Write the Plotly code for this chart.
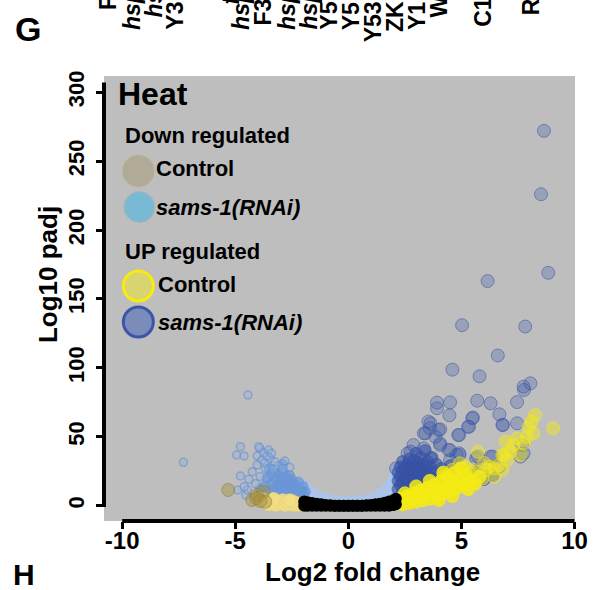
import plotly.graph_objects as go

# ---------------- data ----------------
# non-significant, sams-1(RNAi) (pale blue halo)
halo_x = [-3.4, -3.2, -3.0, -2.8, -2.6, -2.4, -2.2, -2.0, -1.85, -1.7, -1.55, -1.4, -1.25, -1.1, -0.9, -0.7, -0.5,
          -2.2, -1.9, -1.6, -2.6, -2.9,
          -0.3, -0.1, 0.1, 0.3, 0.5, 0.7,
          0.9, 1.1, 1.25, 1.4, 1.55, 1.7, 1.85, 2.0, 2.1, 2.2, 2.0, 1.8, 2.15]
halo_y = [4, 7, 9, 11, 13, 15, 16, 15, 13, 11, 9, 7.5, 6.5, 5.5, 4.5, 4, 3.5,
          10, 8, 6, 7, 5,
          3.2, 3, 3, 3.2, 3.5, 4,
          4.5, 5.5, 6.5, 8, 10, 13, 16, 20, 24, 27, 11, 8, 16]

# Down regulated, sams-1(RNAi)
down_rnai_dense_x = [-3.8, -3.7, -3.6, -3.6, -3.5, -3.4, -3.4, -3.3, -3.3, -3.2, -3.1, -3.1, -3.1, -3.0, -3.0, -3.0,
                     -2.9, -2.9, -2.8, -2.8, -2.8, -2.7, -2.7, -2.6, -2.6, -2.6, -2.5, -2.5, -2.5, -2.4, -2.4,
                     -2.3, -2.3, -2.2, -2.2, -2.1, -2.1, -2.0, -2.0, -1.9, -3.9, -3.5, -2.9]
down_rnai_dense_y = [8, 14, 20, 5, 10, 16, 23, 7, 12, 19, 9, 15, 24, 6, 12, 20,
                     17, 25, 9, 14, 21, 7, 18, 11, 15, 22, 8, 13, 19, 10, 16,
                     7, 13, 10, 17, 8, 12, 9, 14, 10, 12, 27, 30]
down_rnai_x = [-4.44, -7.29, -4.77, -4.94, -4.61, -3.92, -3.75, -3.53, -4.03, -3.82, -3.46, -3.24, -2.81, -4.03,
               -3.67, -3.31, -2.59, -4.25, -4.77, -4.4, -3.9, -4.9, -4.54, -4.47, -3.96, -3.6, -3.1, -2.9, -4.1,
               -4.6, -3.7, -3.4]
down_rnai_y = [80.3, 31.5, 42.8, 36.8, 36.1, 41.6, 38.5, 40.4, 36.1, 33.2, 34.4, 31.9, 32.4, 29.5,
               27.1, 26.4, 27.9, 24.7, 21.6, 19.2, 21.1, 11.4, 7.8, 11.4, 42.8, 36, 29, 27, 16,
               14, 31, 38]

# Up regulated, sams-1(RNAi)
up_rnai_dense_x = [2.2, 2.2, 2.2, 2.3, 2.3, 2.3, 2.4, 2.4, 2.4, 2.4, 2.5, 2.5, 2.5, 2.6, 2.6, 2.6, 2.6, 2.7, 2.7, 2.7,
                   2.7, 2.8, 2.8, 2.8, 2.9, 2.9, 2.9, 2.9, 3.0, 3.0, 3.0, 3.0, 3.1, 3.1, 3.1, 3.2, 3.2, 3.2, 3.2,
                   3.3, 3.3, 3.3, 3.4, 3.4, 3.4, 3.5, 3.5, 3.5, 3.6, 3.6, 3.7, 3.7, 3.8, 3.9, 4.0, 4.1, 4.3, 4.5,
                   4.7, 5.0, 5.3, 5.6, 6.0, 6.4, 3.8, 4.2]
up_rnai_dense_y = [12, 18, 24, 15, 21, 28, 10, 17, 25, 32, 13, 20, 27, 9, 16, 23, 30, 12, 19, 26,
                   34, 15, 22, 29, 11, 18, 25, 33, 14, 21, 28, 38, 17, 24, 31, 13, 20, 27, 35,
                   16, 23, 30, 19, 26, 40, 15, 22, 32, 25, 29, 20, 35, 24, 30, 21, 27, 24, 29,
                   22, 26, 20, 24, 19, 22, 14, 16]
up_rnai_x = [8.65, 8.52, 8.84, 6.16, 5.03, 7.82, 6.61, 4.6, 5.8, 8.05, 7.77, 3.92, 4.5, 5.7, 6.29, 7.46, 3.92, 4.47,
             6.68, 3.54, 5.48, 3.6, 4.06, 5.34, 6.84, 7.46, 3.34, 4.9, 3.85, 2.88, 4.06, 4.43, 4.9, 5.65, 6.3, 7.68,
             7.75, 4.5, 2.62, 3.63, 3.41, 3.99, 4.06, 3.34, 4.5, 4.86, 4.92, 3.63, 2.11, 2.76, 5.51, 5.29, 6.81,
             7.61, 6.38, 5.73, 4.79, 6.66, 5.9, 7.75]
up_rnai_y = [272, 226, 169, 163, 131, 130, 109, 98.7, 93.9, 88.8, 84, 74.8, 75, 76.2, 74.3, 75.2, 70.7, 65.6,
             66.3, 61, 63.4, 56.2, 55.4, 57.3, 58.6, 59.8, 52.5, 51.3, 50, 44, 44, 40.4, 38, 34.4, 35.6, 44,
             38, 33, 38, 59.8, 52.5, 55, 45.3, 41.6, 40.4, 51.3, 36.8, 34.4, 27.1, 39.2, 64, 57.3, 58.6,
             35.6, 35.6, 35.6, 36.8, 28.3, 27.6, 86.4]

# Down regulated, Control
down_ctrl_dense_x = [-3.6, -3.5, -3.4, -3.3, -3.2, -3.1, -3.0, -2.9, -2.8, -2.7, -2.6, -2.5, -2.4, -2.3, -2.2, -2.1,
                     -2.0, -3.8, -2.6, -3.3]
down_ctrl_dense_y = [3, 1, 4, 2, 0.5, 3, 1.5, 4, 0.5, 2.5, 1, 3.5, 0.5, 2, 0.5, 1.5,
                     0.5, 5, 4, 5]
down_ctrl_x = [-5.31, -4.25, -4.03, -3.75, -4.06, -3.67, -3.9]
down_ctrl_y = [11.4, 4.1, 7.8, 10.2, 5.4, 2.9, 3.5]

# Up regulated, Control
up_ctrl_dense_x = [2.2, 2.3, 2.4, 2.5, 2.6, 2.7, 2.8, 2.9, 3.0, 3.1, 3.2, 3.3, 3.4, 3.5, 3.6, 3.7, 3.8, 3.9, 4.0,
                   4.1, 4.2, 4.3, 4.4, 4.5, 4.6, 4.7, 4.8, 4.9, 5.0, 5.1, 5.2, 5.3, 5.4, 3.0, 3.6, 4.2, 2.5,
                   5.6, 5.8, 4.0, 4.6]
up_ctrl_dense_y = [2, 5, 1, 4, 7, 2, 5, 9, 3, 7, 11, 4, 8, 13, 5, 10, 15, 7, 12,
                   18, 9, 14, 21, 11, 17, 24, 13, 19, 27, 15, 22, 12, 18, 14, 18, 24, 9,
                   16, 21, 4, 7]
up_ctrl_x = [9.05, 8.26, 8.11, 8.18, 7.96, 7.46, 7.75, 6.95, 7.17, 6.81, 7.61, 5.73, 6.45, 6.66, 6.09, 5.51, 5.22,
             4.93, 6.45, 5.94, 6.81, 7.03, 6.88, 4.93, 6.23, 4.21, 5.51, 7.3, 5.2, 4.6, 6.0, 7.9]
up_ctrl_y = [56.2, 65.8, 61, 52.5, 57.3, 48.9, 45.3, 46.4, 39.2, 36.8, 36.8, 39.2, 27.1, 29.5, 25.9, 23.5, 18.6,
             13.8, 21, 19.9, 25.9, 33.2, 36.8, 30.8, 28.3, 21, 25.9, 44, 28, 26, 31, 50]

# not significant (black)
ns_x = [-1.95, -1.95, -1.8, -1.8, -1.6, -1.6, -1.4, -1.4, -1.2, -1.2, -1.0, -1.0, -0.8, -0.8, -0.6, -0.6,
        -0.4, -0.4, -0.2, -0.2, 0, 0, 0.2, 0.2, 0.4, 0.4, 0.6, 0.6, 0.8, 0.8, 1.0, 1.0, 1.2, 1.2, 1.4, 1.4,
        1.6, 1.6, 1.8, 1.8, 2.0, 2.0, 2.1, 2.1]
ns_y = [0, 3, 0, 2.5, 0, 2, 0, 1.5, 0, 1, 0, 0.5, 0, 0.3, 0, 0,
        0, 0, 0, 0, 0, 0, 0, 0, 0, 0, 0, 0, 0, 0.3, 0, 0.6, 0, 1, 0, 1.5,
        0, 2.2, 0, 3, 0.5, 4, 1, 5]

x_ticks = [-10, -5, 0, 5, 10]
x_ticktext = ["-10", "-5", "0", "5", "10"]
y_ticks = [0, 50, 100, 150, 200, 250, 300]
y_ticktext = ["0", "50", "100", "150", "200", "250", "300"]

gene_labels = ["F", "hsp", "hsp", "Y3", "f", "hsp", "F3", "hsp", "hsp", "Y5", "Y5", "Y53", "ZK", "Y1", "W", "C1", "R"]
gene_italic = [False, True, True, False, True, True, False, True, True, False, False, False, False, False, False, False, False]

# ---------------- figure ----------------
W, H = 600, 590
L, R, T, B = 104, 584, 76, 521
FONT = "Arial, Liberation Sans, sans-serif"


def pxx(x):
    return (x - L) / (R - L)


def pxy(y):
    return (B - y) / (B - T)


def sc(x, y, size, fill, line, lw=1):
    return go.Scatter(x=x, y=y, mode="markers", hoverinfo="skip",
                      marker=dict(size=size, color=fill, line=dict(color=line, width=lw)))


fig = go.Figure()
fig.add_trace(sc(halo_x, halo_y, 11, "rgb(172,196,231)", "rgb(172,196,231)", 0))
fig.add_trace(sc(down_rnai_dense_x, down_rnai_dense_y, 10, "rgba(105,150,215,0.7)", "rgba(105,150,215,0.7)", 1))
fig.add_trace(sc(down_rnai_x, down_rnai_y, 8, "rgba(150,175,215,0.35)", "rgba(100,145,215,0.6)", 1.5))
fig.add_trace(sc(up_rnai_dense_x, up_rnai_dense_y, 12, "rgba(55,82,165,0.6)", "rgba(55,82,165,0.6)", 1))
fig.add_trace(sc(up_rnai_x, up_rnai_y, 13, "rgba(59,87,168,0.28)", "rgba(59,87,168,0.55)", 1))
fig.add_trace(sc(down_ctrl_dense_x, down_ctrl_dense_y, 13, "rgba(242,222,132,0.9)", "rgba(230,210,120,0.6)", 1))
fig.add_trace(sc(down_ctrl_x, down_ctrl_y, 13, "rgba(165,145,65,0.45)", "rgba(150,130,50,0.6)", 1))
fig.add_trace(sc(up_ctrl_dense_x, up_ctrl_dense_y, 13, "rgba(245,235,20,0.85)", "rgba(245,235,20,0.85)", 1))
fig.add_trace(sc(up_ctrl_x, up_ctrl_y, 13, "rgba(245,235,20,0.45)", "rgba(245,235,20,0.5)", 1))
fig.add_trace(sc(ns_x, ns_y, 12, "black", "black", 0))

annotations = []


def ann(text, x, y, size, xanchor="left", yanchor="middle", angle=0, color="black"):
    annotations.append(dict(text=text, x=pxx(x), y=pxy(y), xref="paper", yref="paper", showarrow=False,
                            xanchor=xanchor, yanchor=yanchor, textangle=angle,
                            font=dict(family=FONT, size=size, color=color)))


# panel letters
ann("<b>G</b>", 26.5, 29, 34, xanchor="center")
ann("<b>H</b>", 22, 574, 30, xanchor="center")

# cut-off gene labels of the panel above
gene_px = [108, 132, 154, 176, 233, 243, 266, 290, 312, 333, 356, 378, 400, 423, 445, 490, 540]
gene_bottom = [12, 32, 20, 32, 7, 32, 27, 32, 32, 32, 32, 44, 34, 32, 20, 29, 17]
for lab, it, gx, gb in zip(gene_labels, gene_italic, gene_px, gene_bottom):
    t = f"<b><i>{lab}</i></b>" if it else f"<b>{lab}</b>"
    ann(t, gx, gb, 23, xanchor="center", yanchor="bottom", angle=-90)

# legend block
ann("<b>Heat</b>", 116, 94, 32)
ann("<b>Down regulated</b>", 123, 135, 22)
ann("<b>Control</b>", 155, 168, 22)
ann("<b><i>sams-1(RNAi)</i></b>", 155, 207, 22)
ann("<b>UP regulated</b>", 123, 252, 22)
ann("<b>Control</b>", 157, 284, 22)
ann("<b><i>sams-1(RNAi)</i></b>", 157, 322, 22)

# axis titles
ann("<b>Log2 fold change</b>", 378, 572, 26, xanchor="center")
ann("<b>Log10 padj</b>", 47, 275, 26, xanchor="center", angle=-90)

shapes = []
legend_circles = [
    (139, 171, 16, "rgb(176,170,150)", "rgb(188,180,155)", 1),
    (140, 207, 15.5, "rgb(120,185,211)", "rgb(175,180,182)", 1),
    (139, 286, 15, "rgb(216,212,112)", "rgb(247,236,16)", 3),
    (139, 322, 15, "rgb(124,140,186)", "rgb(59,86,168)", 3),
]
for cx, cy, r, fc, lc, lw in legend_circles:
    shapes.append(dict(type="circle", xref="paper", yref="paper", xsizemode="pixel", ysizemode="pixel",
                       xanchor=pxx(cx), yanchor=pxy(cy), x0=-r, x1=r, y0=-r, y1=r,
                       fillcolor=fc, line=dict(color=lc, width=lw)))

# axis lines
shapes.append(dict(type="line", xref="x", yref="paper", x0=-10, x1=10, y0=0, y1=0,
                   line=dict(color="black", width=4)))
shapes.append(dict(type="line", xref="paper", yref="y", x0=0, x1=0, y0=-1, y1=307,
                   line=dict(color="black", width=4)))

fig.update_layout(
    width=W, height=H, autosize=False,
    margin=dict(l=L, r=W - R, t=T, b=H - B, pad=0),
    paper_bgcolor="white", plot_bgcolor="rgb(190,190,190)",
    showlegend=False, hovermode=False,
    annotations=annotations, shapes=shapes,
    font=dict(family=FONT, color="black"),
)
fig.update_xaxes(range=[-10.803, 10.022], showgrid=False, zeroline=False, showline=False,
                 tickvals=x_ticks, ticktext=x_ticktext, ticks="outside", ticklen=7, tickwidth=3,
                 tickcolor="black", ticklabelstandoff=-9,
                 tickfont=dict(family=FONT, size=24, weight="bold"))
fig.update_yaxes(range=[-11.1, 311.8], showgrid=False, zeroline=False, showline=False,
                 tickvals=y_ticks, ticktext=y_ticktext, ticks="outside", ticklen=7, tickwidth=3,
                 tickcolor="black", tickangle=-90, ticklabelstandoff=3,
                 tickfont=dict(family=FONT, size=22, weight="bold"))

fig.write_html("out.html")
